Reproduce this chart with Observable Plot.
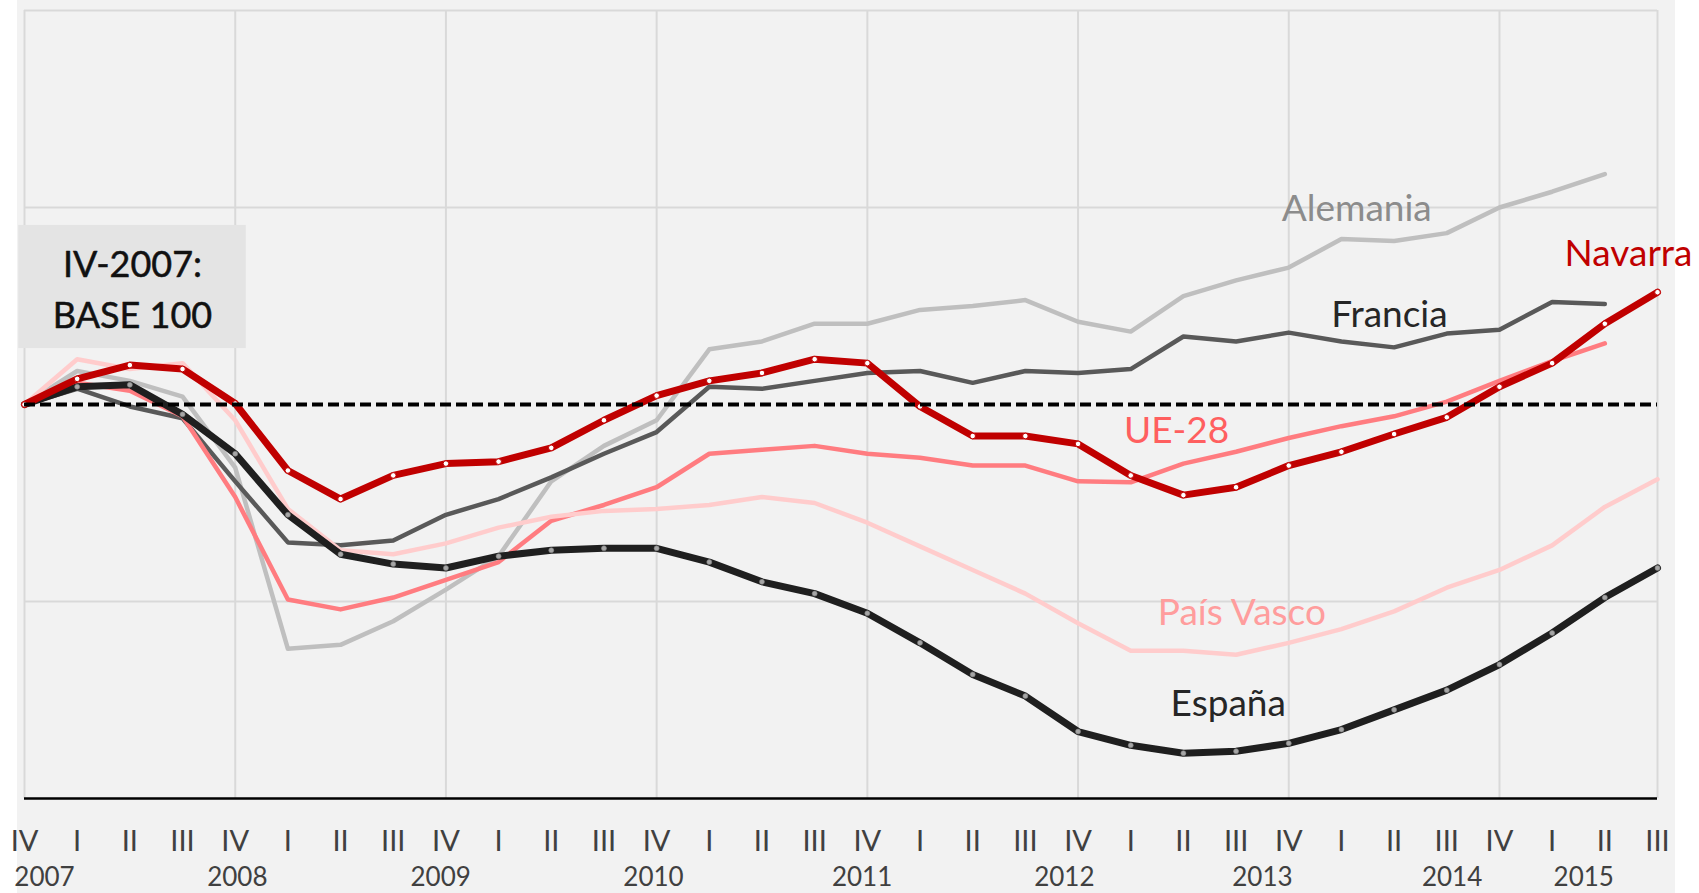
<!DOCTYPE html>
<html>
<head>
<meta charset="utf-8">
<script src="https://cdn.jsdelivr.net/npm/d3@7"></script>
<script src="https://cdn.jsdelivr.net/npm/@observablehq/plot@0.6"></script>
<style>
  html, body { margin: 0; padding: 0; background: #ffffff; overflow: hidden; }
  #chart svg {
    display: block;
    background: linear-gradient(to right, #ffffff 0px, #ffffff 17px, #f2f2f2 17px, #f2f2f2 1675px, #ffffff 1675px) !important;
  }
</style>
</head>
<body>
<div id="chart"></div>
<script>
// ---- Data (index numbers, IV-2007 = 100), quarters IV-2007 .. III-2015 ----
const quarterLabels = ["IV","I","II","III","IV","I","II","III","IV","I","II","III","IV","I","II","III",
                       "IV","I","II","III","IV","I","II","III","IV","I","II","III","IV","I","II","III"];
const yearLabels = ["2007","2008","2009","2010","2011","2012","2013","2014","2015"];
const yearTickPos = [0.38, 4.04, 7.9, 11.94, 15.9, 19.74, 23.5, 27.1, 29.6];

const navarra = [100, 101.3, 102.0, 101.8, 100.05, 96.65, 95.2, 96.4, 97.0, 97.1, 97.8, 99.2, 100.45, 101.2, 101.6, 102.3,
                 102.1, 99.9, 98.4, 98.4, 98.0, 96.4, 95.4, 95.8, 96.9, 97.6, 98.5, 99.35, 100.9, 102.1, 104.1, 105.7];
const espana  = [100, 100.9, 101.0, 99.5, 97.5, 94.4, 92.4, 91.9, 91.7, 92.3, 92.6, 92.7, 92.7, 92.0, 91.0, 90.4,
                 89.4, 87.9, 86.3, 85.2, 83.4, 82.7, 82.3, 82.4, 82.8, 83.5, 84.5, 85.5, 86.8, 88.4, 90.2, 91.7];
const alemania = [100, 101.7, 101.2, 100.4, 96.8, 87.6, 87.8, 89.0, 90.6, 92.3, 96.1, 97.9, 99.2, 102.8, 103.2, 104.1,
                  104.1, 104.8, 105.0, 105.3, 104.2, 103.7, 105.5, 106.3, 106.95, 108.4, 108.3, 108.7, 110.0, 110.8, 111.7];
const francia = [100, 100.8, 99.9, 99.3, 96.1, 93.0, 92.85, 93.1, 94.4, 95.2, 96.3, 97.5, 98.6, 100.9, 100.8, 101.2,
                 101.6, 101.7, 101.1, 101.7, 101.6, 101.8, 103.45, 103.2, 103.65, 103.2, 102.9, 103.6, 103.8, 105.2, 105.1];
const ue28 = [100, 101.1, 100.7, 99.4, 95.3, 90.1, 89.6, 90.2, 91.1, 92.0, 94.1, 94.9, 95.8, 97.5, 97.7, 97.9,
              97.5, 97.3, 96.9, 96.9, 96.1, 96.05, 97.0, 97.6, 98.3, 98.9, 99.4, 100.15, 101.2, 102.2, 103.1];
const paisVasco = [100, 102.3, 101.8, 102.1, 99.2, 94.7, 92.6, 92.4, 92.95, 93.75, 94.3, 94.6, 94.7, 94.9, 95.3, 95.0,
                   94.0, 92.8, 91.6, 90.4, 88.9, 87.5, 87.5, 87.3, 87.9, 88.6, 89.5, 90.7, 91.6, 92.85, 94.8, 96.2];

const baseValue = 100;
const gridValues = [90, 110, 120];
const gridQuarters = [0, 4, 8, 12, 16, 20, 24, 28, 31];

// Series-name annotations (data units: quarter index, index value)
const seriesLabels = [
  {name: "Alemania",   q: 25.29, v: 109.94},
  {name: "Francia",    q: 25.91, v: 104.56},
  {name: "Navarra",    q: 30.45, v: 107.65},
  {name: "UE-28",      q: 21.87, v: 98.67},
  {name: "País Vasco", q: 23.11, v: 89.43},
  {name: "España",     q: 22.85, v: 84.81}
];
const baseNote = {text: "IV-2007:\nBASE 100", q: 2.05, v: 106.0, q1: -0.11, q2: 4.21, v1: 102.84, v2: 109.09};

// ---- Styles ----
const lineStyle = {
  "Alemania":   {stroke: "#bfbfbf", width: 4.5},
  "Francia":    {stroke: "#595959", width: 4.5},
  "UE-28":      {stroke: "#ff7c80", width: 4.5},
  "País Vasco": {stroke: "#ffcccc", width: 4.5},
  "España":     {stroke: "#1f1f1f", width: 7},
  "Navarra":    {stroke: "#c00000", width: 7}
};
const labelColor = {
  "Alemania": "#8c8c8c", "Francia": "#262626", "Navarra": "#c00000",
  "UE-28": "#ff5f5f", "País Vasco": "#ff9d9d", "España": "#262626"
};

const toRows = (arr) => arr.map((v, q) => ({q, v}));
const seriesData = {
  "Alemania": toRows(alemania),
  "Francia": toRows(francia),
  "UE-28": toRows(ue28),
  "País Vasco": toRows(paisVasco),
  "España": toRows(espana),
  "Navarra": toRows(navarra)
};

const drawOrder = ["Alemania", "Francia", "UE-28", "País Vasco", "España", "Navarra"];

const marks = [
  Plot.ruleX(gridQuarters, {x: d => d, y1: 80, y2: 120, stroke: "#d9d9d9", strokeWidth: 2}),
  Plot.ruleY(gridValues, {y: d => d, x1: 0, x2: 31, stroke: "#d9d9d9", strokeWidth: 2}),
  Plot.rect([baseNote], {x1: "q1", x2: "q2", y1: "v1", y2: "v2", fill: "#e4e4e4"})
];

for (const name of drawOrder) {
  marks.push(Plot.line(seriesData[name], {
    x: "q", y: "v", stroke: lineStyle[name].stroke, strokeWidth: lineStyle[name].width,
    strokeLinejoin: "round", strokeLinecap: "round"
  }));
  if (name === "España") {
    marks.push(Plot.dot(seriesData[name], {x: "q", y: "v", r: 2.5, fill: "#a6a6a6", stroke: "#7f7f7f", strokeWidth: 0.6}));
  }
  if (name === "Navarra") {
    marks.push(Plot.dot(seriesData[name], {x: "q", y: "v", r: 2.8, fill: "#ffffff", stroke: "#c00000", strokeWidth: 1}));
  }
}

marks.push(
  Plot.ruleY([baseValue], {y: d => d, x1: 0, x2: 31, stroke: "#000000", strokeWidth: 4, strokeDasharray: "11,5"}),
  Plot.ruleY([80], {y: d => d, x1: 0, x2: 31, stroke: "#000000", strokeWidth: 2.5}),
  Plot.axisX(d3.range(quarterLabels.length), {
    anchor: "bottom", tickSize: 0, tickPadding: 32, fontSize: 29, color: "#404040",
    tickFormat: d => quarterLabels[d], label: null
  }),
  Plot.axisX(yearTickPos, {
    anchor: "bottom", tickSize: 0, tickPadding: 69, fontSize: 26, color: "#404040",
    tickFormat: d => yearLabels[yearTickPos.indexOf(d)], label: null
  }),
  Plot.text([baseNote], {x: "q", y: "v", text: "text", fontSize: 36, lineHeight: 1.42, fill: "#111111",
    stroke: "#111111", strokeWidth: 0.5, lineAnchor: "middle"})
);

for (const lab of seriesLabels) {
  marks.push(Plot.text([lab], {x: "q", y: "v", text: "name", fontSize: 37, fill: labelColor[lab.name], textAnchor: "middle"}));
}

const chart = Plot.plot({
  width: 1699,
  height: 893,
  marginLeft: 24,
  marginRight: 42,
  marginTop: 10,
  marginBottom: 95,
  x: {domain: [0, 31]},
  y: {domain: [80, 120], axis: null},
  style: {fontFamily: "Lato, 'Open Sans', sans-serif", overflow: "visible"},
  marks
});
document.getElementById("chart").appendChild(chart);
</script>
</body>
</html>
